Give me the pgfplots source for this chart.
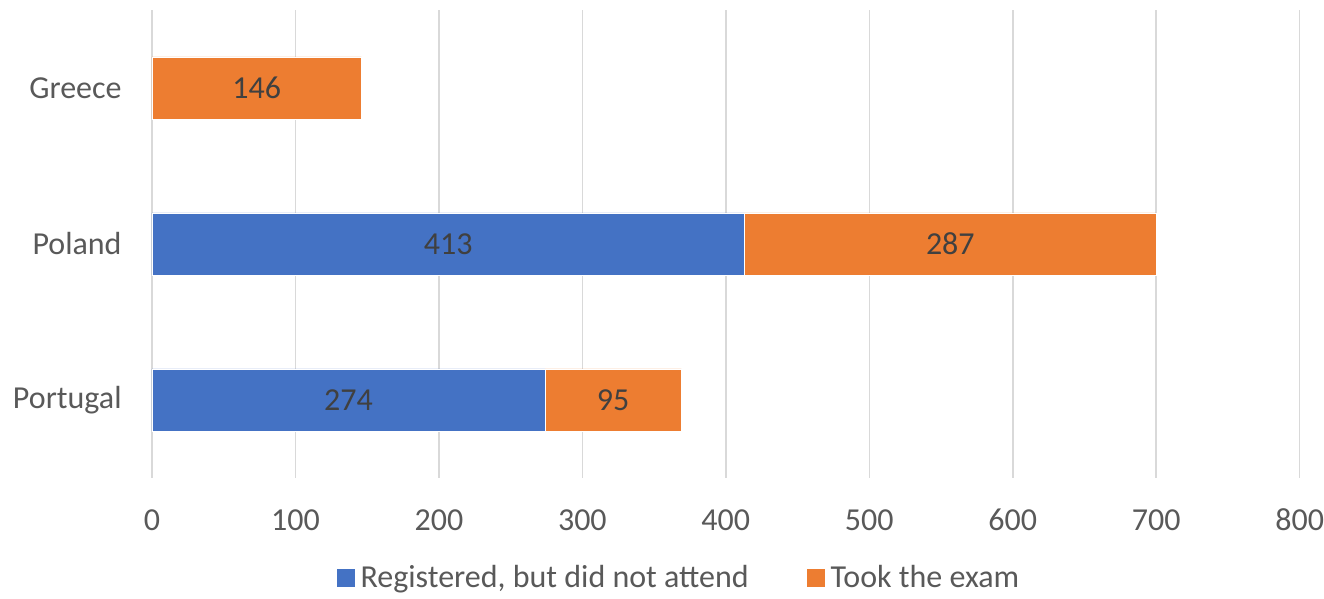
\documentclass[border=0pt]{standalone}
\usepackage{pgfplots}
\pgfplotsset{compat=1.18}
\usepackage{fontspec}
\setmainfont{Carlito}
\definecolor{cblue}{HTML}{4472C4}
\definecolor{corange}{HTML}{ED7D31}
\definecolor{cgrid}{HTML}{D9D9D9}
\definecolor{ctext}{HTML}{595959}
\definecolor{clab}{HTML}{404040}
\begin{document}
\begin{tikzpicture}
\begin{axis}[
  scale only axis,
  width=574pt, height=234pt,
  xbar stacked,
  bar width=31pt,
  xmin=0, xmax=800,
  ymin=-0.5, ymax=2.5,
  xtick={0,100,...,800},
  ytick={0,1,2},
  yticklabels={Portugal,Poland,Greece},
  axis line style={draw=none},
  major tick length=0pt,
  xmajorgrids,
  grid style={cgrid, line width=0.75pt},
  font=\fontsize{16}{19}\selectfont,
  tick label style={text=ctext},
  /pgf/number format/assume math mode=true,
  xticklabel style={anchor=center, inner sep=0pt, yshift=-21pt},
  yticklabel style={anchor=east, inner sep=0pt, xshift=-15pt},
  clip=false,
  point meta=rawx,
  visualization depends on=rawx \as \rawx,
  nodes near coords={\ifdim\rawx pt>0pt \pgfmathprintnumber{\pgfplotspointmeta}\fi},
  every node near coord/.append style={anchor=center, inner sep=0pt, text=clab, font=\fontsize{16}{19}\selectfont},
  legend style={at={(0.46,-0.214)}, anchor=center, draw=none, legend columns=2,
    font=\fontsize{16}{19}\selectfont, text=ctext,
    /tikz/every even column/.append style={column sep=27pt},
    /tikz/every odd column/.append style={column sep=1pt}},
  legend image code/.code={\fill[#1, draw=none] (0pt,-4.5pt) rectangle (9pt,4.5pt);},
]
\addplot[fill=cblue, draw=white, line width=0.3pt] coordinates {(274,0) (413,1) (0,2)};
\addlegendentry{Registered, but did not attend}
\addplot[fill=corange, draw=white, line width=0.3pt] coordinates {(95,0) (287,1) (146,2)};
\addlegendentry{Took the exam}
\path (rel axis cs:-0.1324,-0.2479) rectangle (rel axis cs:1.0209,1.0214);
\end{axis}
\end{tikzpicture}
\end{document}
